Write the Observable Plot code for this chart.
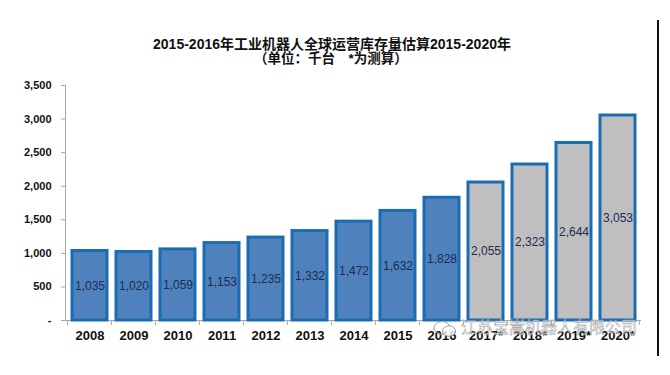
<!DOCTYPE html>
<html>
<head>
<meta charset="utf-8">
<script src="https://cdn.jsdelivr.net/npm/d3@7"></script>
<script src="https://cdn.jsdelivr.net/npm/@observablehq/plot@0.6"></script>
<style>
  body { margin: 0; background: white; }
  #wrap { position: relative; width: 670px; height: 375px; overflow: hidden; background: white; }
  #chart { position: absolute; left: 0; top: 0; }
  .title { position: absolute; font-family: "Liberation Sans", "Noto Sans CJK SC", sans-serif; font-weight: bold; color: #111; white-space: nowrap; line-height: 1; transform: translateX(-50%); }
  #t1 { left: 332px; top: 37px; font-size: 14px; }
  #t2 { left: 331px; top: 52px; font-size: 13.5px; }
  #vline { position: absolute; left: 657px; top: 20px; width: 2px; height: 336px; background: #111; }
  #wm { position: absolute; left: 433px; top: 318px; white-space: nowrap; font-family: "Noto Sans CJK SC", sans-serif; font-size: 16px; line-height: 1; color: rgba(255,255,255,0.6); -webkit-text-stroke: 0.5px #9a9a9a; }
  #wm svg { vertical-align: middle; margin-right: 4px; }
</style>
</head>
<body>
<div id="wrap">
  <div id="chart"></div>
  <div class="title" id="t1">2015-2016年工业机器人全球运营库存量估算2015-2020年</div>
  <div class="title" id="t2">（单位：千台　*为测算）</div>
  <div id="vline"></div>
  <div id="wm"><svg width="24" height="18" viewBox="0 0 24 18"><ellipse cx="9" cy="8" rx="8" ry="6.5" fill="none" stroke="#a0a0a0" stroke-width="1"/><ellipse cx="16" cy="11" rx="6.5" ry="5.2" fill="rgba(255,255,255,0.8)" stroke="#a0a0a0" stroke-width="1"/></svg>江苏宝嵩机器人有限公司</div>
</div>
<script>
const years = ["2008","2009","2010","2011","2012","2013","2014","2015","2016","2017","2018","2019","2020"];
const yearLabels = ["2008","2009","2010","2011","2012","2013","2014","2015","2016","2017*","2018*","2019*","2020*"];
const stock = [1035,1020,1059,1153,1235,1332,1472,1632,1828,2055,2323,2644,3053];
const kind = ["实际","实际","实际","实际","实际","实际","实际","实际","实际","测算","测算","测算","测算"];
const yTicks = [0,500,1000,1500,2000,2500,3000,3500];

const data = years.map((y, i) => ({year: y, label: yearLabels[i], value: stock[i], kind: kind[i]}));
const fmt = d3.format(",");

function boundaryTicks(index, scales) {
  const {x, y} = scales;
  const step = x(yearLabels[1]) - x(yearLabels[0]);
  const half = step * 0.105;
  const y0 = y(0);
  const xs = yearLabels.map(l => x(l) - half);
  xs.push(x(yearLabels[yearLabels.length - 1]) + step - half);
  const g = d3.create("svg:g").attr("stroke", "#a6a6a6");
  for (const px of xs) {
    g.append("line").attr("x1", px).attr("x2", px).attr("y1", y0).attr("y2", y0 + 5);
  }
  return g.node();
}

const chart = Plot.plot({
  width: 670,
  height: 375,
  marginLeft: 65,
  marginRight: 29,
  marginTop: 85,
  marginBottom: 55,
  style: {fontFamily: "'Liberation Sans', 'Noto Sans CJK SC', sans-serif", background: "transparent", color: "#111"},
  x: {domain: yearLabels, paddingInner: 0.21, paddingOuter: 0.105, label: null},
  y: {domain: [0, 3500], label: null},
  color: {domain: ["实际", "测算"], range: ["#4F81BD", "#BFBFBF"]},
  marks: [
    Plot.ruleY([0], {stroke: "#a6a6a6"}),
    Plot.frame({anchor: "left", stroke: "#a6a6a6"}),
    boundaryTicks,
    Plot.barY(data, {x: "label", y: "value", fill: "kind", stroke: "#1c6cb4", strokeWidth: 3}),
    Plot.text(data, {x: "label", y: d => d.value / 2, text: d => fmt(d.value), fill: "#1b2d52", fontSize: 12}),
    Plot.axisY({ticks: yTicks, tickSize: 4, tickPadding: 10, tickFormat: d => d === 0 ? "-" : fmt(d), fontWeight: "bold", fontSize: 11, stroke: "#a6a6a6", fill: "#111", label: null}),
    Plot.axisX({tickSize: 0, tickPadding: 10, fontWeight: "bold", fontSize: 13, fill: "#111", label: null})
  ]
});
document.getElementById("chart").appendChild(chart);
</script>
</body>
</html>
